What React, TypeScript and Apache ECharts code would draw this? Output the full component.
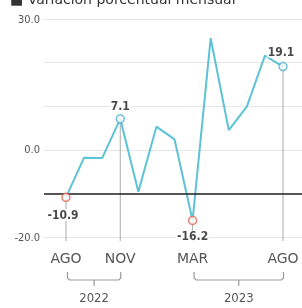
import React, { useEffect, useRef } from "react";
import * as echarts from "echarts";

const months = ["AGO", "SEP", "OCT", "NOV", "DIC", "ENE", "FEB", "MAR", "ABR", "MAY", "JUN", "JUL", "AGO"];
const values = [-10.9, -1.8, -1.9, 7.1, -9.6, 5.3, 2.4, -16.2, 25.6, 4.5, 9.9, 21.6, 19.1];
const highlightIdx = [0, 3, 7, 12];
const axisLabelIdx = [0, 3, 7, 12];
const yearLabels = ["2022", "2023"];
const yearFrom = [0, 7];
const yearTo = [3, 12];
const yTickLabels = [30, 0, -20];
const referenceValue = -10;
const title = "Variación porcentual mensual";

const LINE = "#5cc3d4";
const BLUE = "#4fb3cc";
const RED = "#e2654f";
const COND = "'DejaVu Sans Condensed', 'Liberation Sans Narrow', 'DejaVu Sans', sans-serif";

export default function App() {
  const ref = useRef<HTMLDivElement>(null);
  useEffect(() => {
    if (!ref.current) return;
    const chart = echarts.init(ref.current, null, { renderer: "svg" });
    const labelCfg: Record<number, any> = {
      0: { position: "bottom", distance: 7, offset: [-3, 0] },
      3: { position: "top", distance: 2, offset: [0, 0] },
      7: { position: "bottom", distance: 5, offset: [0, 0] },
      12: { position: "top", distance: 4, offset: [-2, 0] },
    };
    const scatterData = highlightIdx.map((i) => ({
      value: [i, values[i]],
      itemStyle: { color: "#fff", borderColor: values[i] < 0 ? RED : BLUE, borderWidth: 1.5 },
      label: {
        show: true,
        formatter: () => values[i].toFixed(1),
        ...labelCfg[i],
        color: "#1a1a1a",
        fontWeight: "bold",
        fontSize: 12,
        fontFamily: COND,
        backgroundColor: "#fff",
        padding: [0, 1],
      },
    }));
    chart.setOption({
      animation: false,
      graphic: [
        {
          type: "text",
          left: 10,
          top: -8,
          style: { text: "■ " + title, font: "14px 'DejaVu Sans', sans-serif", fill: "#333" },
        },
      ],
      grid: { left: 44, right: 0, top: 19, bottom: 71 },
      xAxis: {
        type: "value",
        min: -1.2166,
        max: 13.05,
        splitLine: { show: false },
        axisLine: { show: false },
        axisTick: { show: false },
        axisLabel: {
          customValues: axisLabelIdx,
          formatter: (v: number) => months[Math.round(v)] ?? "",
          color: "#555",
          fontSize: 14,
          fontFamily: "'DejaVu Sans', sans-serif",
          margin: 14,
        },
      },
      yAxis: {
        type: "value",
        min: -20,
        max: 30,
        interval: 10,
        splitLine: { lineStyle: { color: "#e6e6e6", width: 1 } },
        axisLine: { show: false },
        axisTick: { show: false },
        axisLabel: {
          formatter: (v: number) => (yTickLabels.includes(v) ? v.toFixed(1) : ""),
          color: "#555",
          fontSize: 11,
          fontFamily: COND,
          margin: 4,
        },
      },
      series: [
        {
          type: "custom",
          clip: false,
          silent: true,
          z: 2,
          encode: { x: 0, y: 1 },
          data: highlightIdx.map((i) => [i, values[i]]),
          renderItem: (params: any, api: any) => {
            const p = api.coord([api.value(0), api.value(1)]);
            const q = api.coord([api.value(0), -20]);
            return {
              type: "line",
              shape: { x1: p[0], y1: p[1], x2: q[0], y2: q[1] + 4 },
              style: { stroke: "#aaa", lineWidth: 1 },
            };
          },
        },
        {
          type: "line",
          data: values.map((v, i) => [i, v]),
          symbol: "none",
          clip: false,
          lineStyle: { color: LINE, width: 2 },
          z: 3,
          markLine: {
            silent: true,
            symbol: "none",
            label: { show: false },
            lineStyle: { color: "#222", width: 1.5, type: "solid" },
            data: [[{ coord: [-1.2166, referenceValue] }, { coord: [13.05, referenceValue] }]],
          },
        },
        {
          type: "scatter",
          data: scatterData,
          symbol: "circle",
          symbolSize: 8,
          clip: false,
          z: 5,
        },
        {
          type: "custom",
          clip: false,
          silent: true,
          encode: { x: [0, 1], y: 2 },
          data: yearLabels.map((_, k) => [yearFrom[k], yearTo[k], -20]),
          renderItem: (params: any, api: any) => {
            const a = api.coord([api.value(0), api.value(2)]);
            const b = api.coord([api.value(1), api.value(2)]);
            const x1 = a[0] + 1.5;
            const x2 = b[0] + 0.5;
            const base = a[1];
            const yTop = base + 35;
            const yH = base + 43;
            const mid = (x1 + x2) / 2;
            const st = { stroke: "#999", lineWidth: 1.2, fill: null };
            return {
              type: "group",
              children: [
                {
                  type: "polyline",
                  shape: { points: [[x1, yTop], [x1, yH - 2], [x1 + 2, yH], [x2 - 2, yH], [x2, yH - 2], [x2, yTop]] },
                  style: st,
                },
                { type: "line", shape: { x1: mid, y1: yH, x2: mid, y2: yH + 6 }, style: st },
                {
                  type: "text",
                  style: {
                    text: yearLabels[params.dataIndex],
                    x: mid,
                    y: base + 60,
                    align: "center",
                    verticalAlign: "middle",
                    fill: "#555",
                    font: "13px 'DejaVu Sans Condensed', 'DejaVu Sans', sans-serif",
                  },
                },
              ],
            };
          },
        },
      ],
    });
    return () => chart.dispose();
  }, []);
  return <div ref={ref} style={{ position: "fixed", left: 0, top: 0, width: 302, height: 308 }} />;
}
